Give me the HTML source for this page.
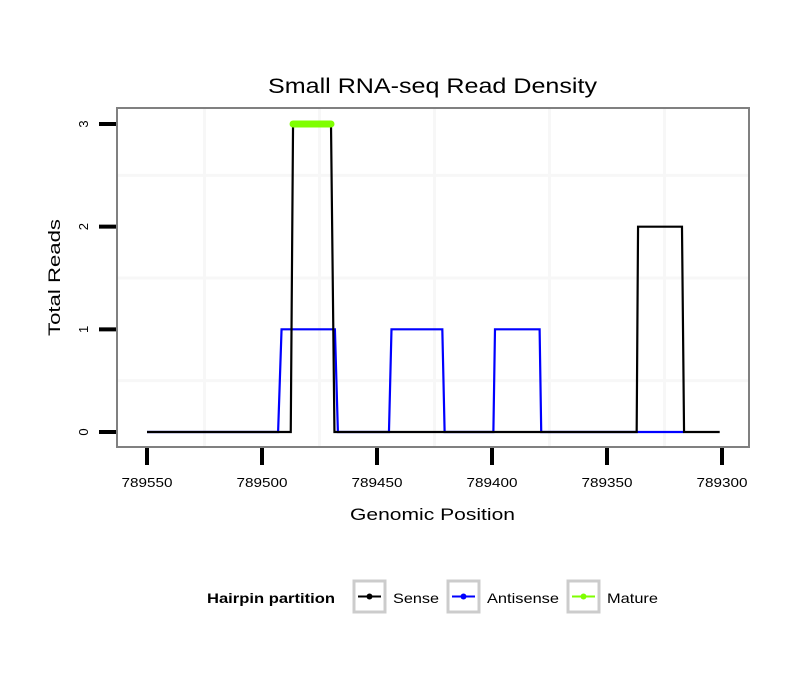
<!DOCTYPE html>
<html><head><meta charset="utf-8"><style>
body{margin:0;background:#fff;}
svg{display:block;font-family:"Liberation Sans",sans-serif;}
</style></head><body>
<svg id="chart" width="810" height="690">
<text x="268" y="93" font-size="21" textLength="329" lengthAdjust="spacingAndGlyphs">Small RNA-seq Read Density</text>
<g id="grid"></g>
<g id="series"></g>
<rect x="117" y="108" width="632" height="339" fill="none" stroke="#808080" stroke-width="2"/>
<g id="axes"></g>
<text x="350" y="520" font-size="17" textLength="165" lengthAdjust="spacingAndGlyphs">Genomic Position</text>
<text transform="translate(60,336) rotate(-90)" font-size="17" textLength="117" lengthAdjust="spacingAndGlyphs">Total Reads</text>
<g>
<text x="207" y="603" font-size="14" font-weight="bold" textLength="128" lengthAdjust="spacingAndGlyphs">Hairpin partition</text>
<g>
<rect x="354" y="581" width="31" height="31" fill="#fff" stroke="#ccc" stroke-width="3"/>
<line x1="358" y1="596.5" x2="381" y2="596.5" stroke="#000" stroke-width="2"/><circle cx="369.5" cy="596.5" r="3" fill="#000"/>
<text x="393" y="603" font-size="14" textLength="46" lengthAdjust="spacingAndGlyphs">Sense</text></g>
<g>
<rect x="448" y="581" width="31" height="31" fill="#fff" stroke="#ccc" stroke-width="3"/>
<line x1="452" y1="596.5" x2="475" y2="596.5" stroke="#0000ff" stroke-width="2"/><circle cx="463.5" cy="596.5" r="3" fill="#0000ff"/>
<text x="487" y="603" font-size="14" textLength="72" lengthAdjust="spacingAndGlyphs">Antisense</text></g>
<g>
<rect x="568" y="581" width="31" height="31" fill="#fff" stroke="#ccc" stroke-width="3"/>
<line x1="572" y1="596.5" x2="595" y2="596.5" stroke="#7fff00" stroke-width="2"/><circle cx="583.5" cy="596.5" r="3" fill="#7fff00"/>
<text x="607" y="603" font-size="14" textLength="51" lengthAdjust="spacingAndGlyphs">Mature</text></g>
</g>
</svg>
<script>
const xTicks=[789550,789500,789450,789400,789350,789300];
const yTicks=[0,1,2,3];
const senseX=[789550,789487.5,789486.5,789470,789468.5,789337.1,789336.5,789317.4,789316.5,789301];
const senseY=[0,0,3,3,0,0,2,2,0,0];
const antiX=[789550,789493,789491.5,789468.3,789467,789444.8,789443.7,789421.6,789420.6,789399.4,789398.7,789379.3,789378.6,789316.8];
const antiY=[0,0,1,1,0,0,1,1,0,0,1,1,0,0];
const matureX=[789486.5,789470];
const matureY=[3,3];
const X0=789550,X1=789300,PX0=147,PX1=722;
const sx=v=>PX0+(X0-v)*(PX1-PX0)/(X0-X1);
const sy=v=>432-v*(432-124)/3;
const NS='http://www.w3.org/2000/svg';
function mk(tag,parent,attrs){const e=document.createElementNS(NS,tag);for(const k in attrs)e.setAttribute(k,attrs[k]);parent.appendChild(e);return e;}
const grid=document.getElementById('grid'),series=document.getElementById('series'),axes=document.getElementById('axes');
for(let i=0;i<xTicks.length-1;i++){const m=(xTicks[i]+xTicks[i+1])/2;
 const l=mk('line',grid,{x1:sx(m),x2:sx(m),y1:109,y2:446,stroke:'#f7f7f7','stroke-width':3});
 
 }
for(let i=0;i<yTicks.length-1;i++){const m=(yTicks[i]+yTicks[i+1])/2;
 const l=mk('line',grid,{x1:118,x2:748,y1:sy(m),y2:sy(m),stroke:'#f7f7f7','stroke-width':3});
 
 }
function line(xs,ys,color,w,name){const p=xs.map((x,i)=>sx(x).toFixed(2)+','+sy(ys[i]).toFixed(2)).join(' ');
 const e=mk('polyline',series,{points:p,fill:'none',stroke:color,'stroke-width':w,'stroke-linecap':name==='mature-line'?'round':'butt','stroke-linejoin':'miter'});
 
 }
line(antiX,antiY,'#0000ff',2.2,'antisense-line');
line(senseX,senseY,'#000',2.2,'sense-line');
line(matureX,matureY,'#7fff00',7,'mature-line');
xTicks.forEach(t=>{const l=mk('line',axes,{x1:sx(t),x2:sx(t),y1:448,y2:465,stroke:'#000','stroke-width':4});
 
 
 const tx=mk('text',axes,{x:sx(t)-25.5,y:487,'font-size':13,textLength:51,lengthAdjust:'spacingAndGlyphs'});tx.textContent=t;
 
 });
yTicks.forEach(t=>{const l=mk('line',axes,{x1:99,x2:116,y1:sy(t),y2:sy(t),stroke:'#000','stroke-width':4});
 
 
 const tx=mk('text',axes,{transform:`translate(88,${sy(t)}) rotate(-90)`,'font-size':13,'text-anchor':'middle'});tx.textContent=t;
 
 });
</script>
</body></html>
